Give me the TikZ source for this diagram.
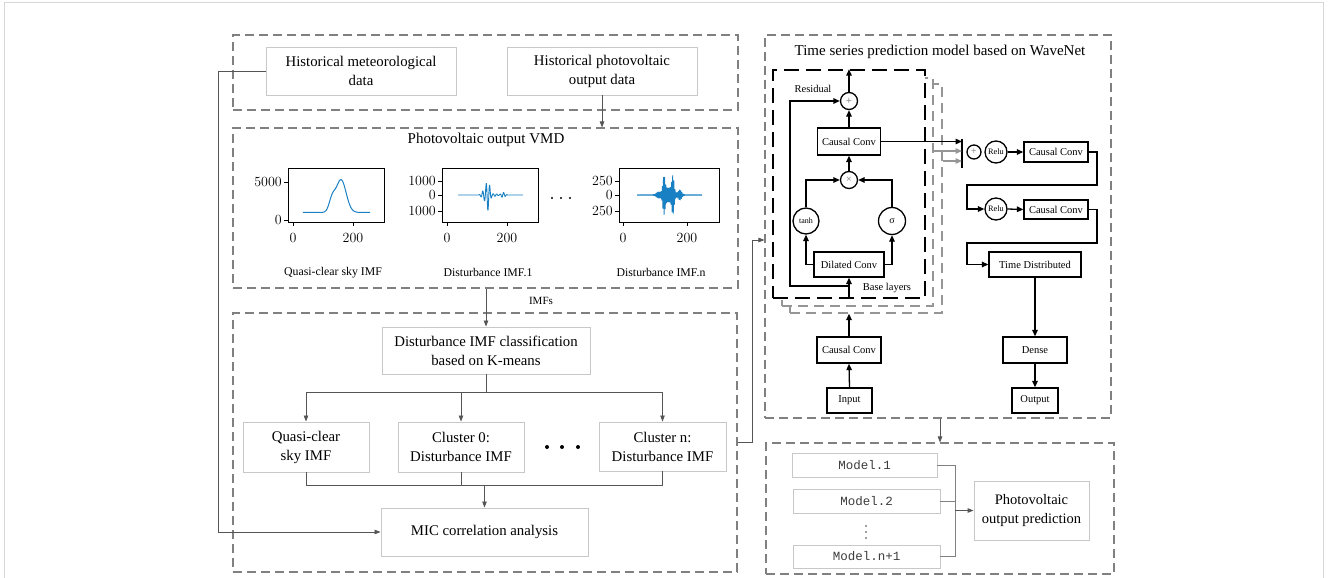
\documentclass[tikz,border=0pt]{standalone}
\usepackage{fontspec}
\usetikzlibrary{arrows.meta}
\newfontfamily\tnr{Liberation Serif}
\newfontfamily\mono{Liberation Mono}
\definecolor{boxgray}{RGB}{200,200,200}
\definecolor{lingray}{RGB}{85,85,85}
\definecolor{dashgray}{RGB}{128,128,128}
\definecolor{stackgray}{RGB}{150,150,150}
\definecolor{plotblue}{RGB}{25,128,195}
\definecolor{framegray}{RGB}{215,215,215}
\definecolor{modeltext}{RGB}{60,60,60}
\definecolor{symgray}{RGB}{110,110,110}
\tikzset{
 gbox/.style={draw=boxgray, line width=0.9pt, fill=white, inner sep=0pt, align=center, font=\tnr\fontsize{14.8}{19}\selectfont, text=black},
 mbox/.style={gbox, font=\mono\fontsize{12.5}{14}\selectfont, text=modeltext},
 panelbox/.style={draw=dashgray, line width=1.1pt, dash pattern=on 9pt off 5pt, inner sep=0pt},
 conn/.style={draw=lingray, line width=0.8pt},
 carr/.style={conn, -{Triangle[length=6pt,width=4.5pt]}},
 gline/.style={draw=dashgray, line width=1pt},
 garrow/.style={gline, -{Triangle[length=6pt,width=4.5pt]}},
 bbox/.style={draw=black, line width=1.3pt, fill=white, inner sep=0pt, font=\tnr\fontsize{10.5}{12}\selectfont},
 circ/.style={circle, draw=black, line width=1.3pt, fill=white, inner sep=0pt},
 bl/.style={draw=black, line width=1.3pt},
 barr/.style={bl, -{Triangle[length=6.5pt,width=5.5pt]}},
 stackarr/.style={draw=stackgray, line width=1.3pt, -{Triangle[length=6.5pt,width=5.5pt]}},
 labtxt/.style={font=\tnr\fontsize{10.5}{12}\selectfont, inner sep=0pt},
 captxt/.style={font=\tnr\fontsize{11.8}{13}\selectfont, inner sep=0pt},
 ticktxt/.style={font=\fontsize{14}{15}\selectfont, inner sep=0pt},
 axframe/.style={draw=black, line width=0.9pt},
 plotcurve/.style={draw=plotblue, line width=1pt, line join=round},
}
\begin{document}
\begin{tikzpicture}[x=1pt,y=-1pt]
\useasboundingbox (0,0) rectangle (1328,578);
\draw[framegray, line width=1pt] (4.5,2.5) rectangle (1323.5,590);

% ---------------- left column panels
\node[panelbox, minimum width=505pt, minimum height=75pt] (toppanel) at (485.5,72.5) {};
\node[panelbox, minimum width=505pt, minimum height=160pt] (vmd) at (485.5,208) {};
\node[panelbox, minimum width=504pt, minimum height=259pt] (botpanel) at (485,442.5) {};

\node[gbox, minimum width=190pt, minimum height=48pt] (met) at (361,71) {Historical meteorological\\data};
\node[gbox, minimum width=190pt, minimum height=48pt] (pvd) at (602,71) {Historical photovoltaic\\output data};
\draw[carr] (pvd.south) -- (pvd.south |- vmd.north);

\node[font=\tnr\fontsize{15}{17}\selectfont, inner sep=0pt] (vmdtitle) at (486,140) {Photovoltaic output VMD};

% plot 1
\draw[axframe] (288,168) rectangle (384,222);
\draw[axframe] (288,182) -- (284,182) (288,220) -- (284,220) (293,222) -- (293,226) (353,222) -- (353,226);
\node[ticktxt, anchor=east] (p1y1) at (282,182) {5000};
\node[ticktxt, anchor=east] (p1y0) at (282,220) {0};
\node[ticktxt] (p1x0) at (293,238) {0};
\node[ticktxt] (p1x2) at (353,238) {200};
\begin{scope}[shift={(293,220)}, x=0.3pt, y=0.0076pt]
\draw[plotcurve] plot[domain=33:257, samples=200] (\x, {1000+4300*exp(-(((\x-160)/24)^2))+1500*exp(-(((\x-130)/14)^2))});
\end{scope}
\node[captxt] (c1) at (333,273) {Quasi-clear sky IMF};

% plot 2
\draw[axframe] (442,168) rectangle (538,222);
\draw[axframe] (442,181) -- (438,181) (442,195) -- (438,195) (442,211) -- (438,211) (447,222) -- (447,226) (507,222) -- (507,226);
\node[ticktxt, anchor=east] (p2y1) at (436,181) {1000};
\node[ticktxt, anchor=east] (p2y0) at (436,195) {0};
\node[ticktxt, anchor=east] (p2y2) at (436,211) {1000};
\node[ticktxt] (p2x0) at (447,238) {0};
\node[ticktxt] (p2x2) at (507,238) {200};
\begin{scope}[shift={(447,195)}, x=0.3pt, y=0.0145pt]
\draw[plotcurve, line width=0.9pt] plot[domain=37:253, samples=500] (\x, {(1050*exp(-(((\x-136)/9)^2))+250*exp(-(((\x-120)/8)^2))+180*exp(-(((\x-187)/9)^2))+90*exp(-(((\x-160)/10)^2)))*sin(31*\x)});
\end{scope}
\node[captxt] (c2) at (488,272) {Disturbance IMF.1};

\fill[black] (552,198) circle (1.1pt) (561,198) circle (1.1pt) (570,198) circle (1.1pt);

% plot 3
\draw[axframe] (619,168) rectangle (719,222);
\draw[axframe] (619,181) -- (615,181) (619,195) -- (615,195) (619,211) -- (615,211) (623,222) -- (623,226) (687,222) -- (687,226);
\node[ticktxt, anchor=east] (p3y1) at (613,181) {250};
\node[ticktxt, anchor=east] (p3y0) at (613,195) {0};
\node[ticktxt, anchor=east] (p3y2) at (613,211) {250};
\node[ticktxt] (p3x0) at (623,238) {0};
\node[ticktxt] (p3x2) at (687,238) {200};
\begin{scope}[shift={(623,195)}, x=0.32pt, y=0.056pt]
\draw[plotcurve, line width=0.8pt] plot[domain=44:247, samples=900] (\x, {(270*exp(-(((\x-128)/5)^2))+270*exp(-(((\x-156)/5)^2))+120*exp(-(((\x-142)/20)^2))+80*exp(-(((\x-178)/7)^2))+40*exp(-(((\x-110)/8)^2))+6)*sin(100*(\x-140))});
\end{scope}
\node[captxt] (c3) at (661,272) {Disturbance IMF.n};

\node[captxt, font=\tnr\fontsize{11}{12}\selectfont] (imfs) at (541,301) {IMFs};

% bottom left
\node[gbox, minimum width=208pt, minimum height=47pt] (kmeans) at (486,350.5) {Disturbance IMF classification\\based on K-means};
\draw[carr] (kmeans.north |- vmd.south) -- (kmeans.north);

\node[gbox, minimum width=126pt, minimum height=50pt] (quasi) at (306,447) {Quasi-clear\\sky IMF};
\node[gbox, minimum width=126pt, minimum height=50pt] (c0) at (461,447) {Cluster 0:\\Disturbance IMF};
\node[gbox, minimum width=127pt, minimum height=49pt] (cn) at (662.5,446.5) {Cluster n:\\Disturbance IMF};
\fill[black] (547,447) circle (2pt) (562,447) circle (2pt) (578,447) circle (2pt);

\coordinate (br) at (486,392);
\draw[conn] (kmeans.south) -- (br);
\draw[conn] (quasi.north |- br) -- (cn.north |- br);
\draw[carr] (quasi.north |- br) -- (quasi.north);
\draw[carr] (c0.north |- br) -- (c0.north);
\draw[carr] (cn.north |- br) -- (cn.north);

\node[gbox, minimum width=207pt, minimum height=48pt] (mic) at (484.5,532) {MIC correlation analysis};
\coordinate (mg) at (485,485);
\draw[conn] (quasi.south) |- (cn.south |- mg) -- (cn.south);
\draw[conn] (c0.south) -- (c0.south |- mg);
\draw[carr] (mic.north |- mg) -- (mic.north);

\coordinate (metbend) at (218,71);
\draw[carr] (met.west) -- (metbend) |- (mic.west);

% ---------------- right column
\node[panelbox, minimum width=346pt, minimum height=383pt] (wpanel) at (938,226.5) {};
\node[font=\tnr\fontsize{15}{17}\selectfont, inner sep=0pt] (wtitle) at (940,52) {Time series prediction model based on WaveNet};

\coordinate (lr) at (752,240);
\draw[carr] (botpanel.east) -| (lr) -- (wpanel.west |- lr);

% stack of base layers
\node[draw=stackgray, line width=1.3pt, dash pattern=on 10pt off 6pt, fill=white, minimum width=152pt, minimum height=229pt, inner sep=0pt] (box3) at (866,198.5) {};
\node[draw=stackgray, line width=1.3pt, dash pattern=on 10pt off 6pt, fill=white, minimum width=151pt, minimum height=228pt, inner sep=0pt] (box2) at (857.5,192) {};
\node[draw=black, line width=1.6pt, dash pattern=on 15pt off 7pt, fill=white, minimum width=152pt, minimum height=228pt, inner sep=0pt] (box1) at (849,184) {};

\node[circ, minimum size=17pt, font=\tnr\fontsize{11}{11}\selectfont, text=symgray] (plus1) at (849,101) {+};
\node[bbox, minimum width=63pt, minimum height=27pt] (cc1) at (849,141.5) {Causal Conv};
\node[circ, minimum size=17pt, font=\tnr\fontsize{10}{10}\selectfont, text=symgray] (times) at (849,180) {×};
\node[circ, minimum size=26pt, font=\tnr\fontsize{8}{9}\selectfont] (tanh) at (806,221) {tanh};
\node[circ, minimum size=27pt, font=\tnr\fontsize{10}{10}\selectfont] (sig) at (892,221) {σ};
\node[bbox, minimum width=70pt, minimum height=25pt] (dil) at (849,264.5) {Dilated Conv};
\node[labtxt] (resid) at (813,89) {Residual};
\node[labtxt] (basel) at (887,288) {Base layers};

\draw[barr] (cc1.north) -- (plus1.south);
\draw[barr] (plus1.north) -- (plus1.north |- box1.north);
\draw[barr] (times.north) -- (cc1.south);
\draw[barr] (tanh.north) |- (times.west);
\draw[barr] (sig.north) |- (times.east);
\draw[barr] (dil.west) -| (tanh.south);
\draw[barr] (dil.east) -| (sig.south);
\draw[barr] (box1.south) -- (dil.south);
\coordinate (rs) at (849,286);
\coordinate (resx) at (790,286);
\draw[barr] (rs) -- (resx) |- (plus1.west);

\node[bbox, minimum width=64pt, minimum height=26pt] (cc0) at (849,350) {Causal Conv};
\node[bbox, minimum width=45pt, minimum height=25pt] (inp) at (849.5,400.5) {Input};
\draw[barr] (inp.north) -- (cc0.south);
\draw[barr] (cc0.north) -- (cc0.north |- box3.south);

% concat bar
\coordinate (bart) at (962,139);
\coordinate (barb) at (962,168);
\draw[black, line width=1.6pt] (bart) -- (barb);
\draw[barr] (cc1.east) -- (cc1.east -| bart);
\coordinate (g1) at (962,151);
\coordinate (g2) at (962,161);
\draw[stackarr] (box2.east |- g1) -- (g1);
\draw[stackarr] (box3.east |- g2) -- (g2);

\node[circ, minimum size=14pt, font=\tnr\fontsize{10}{10}\selectfont, text=symgray] (plus2) at (974,152) {+};
\node[circ, minimum size=22pt, font=\tnr\fontsize{8.3}{9}\selectfont] (relu1) at (996,152) {Relu};
\node[bbox, minimum width=64pt, minimum height=20pt] (cc2) at (1056,152) {Causal Conv};
\draw[barr] (relu1.east) -- (cc2.west);

\node[circ, minimum size=22pt, font=\tnr\fontsize{8.3}{9}\selectfont] (relu2) at (996,209) {Relu};
\node[bbox, minimum width=64pt, minimum height=19pt] (cc3) at (1056,209.5) {Causal Conv};
\draw[barr] (relu2.east) -- (cc3.west);

\coordinate (j1) at (1097,185);
\coordinate (j2) at (967,185);
\draw[barr] (cc2.east) -| (j1) -- (j2) |- (relu2.west);

\node[bbox, minimum width=92pt, minimum height=25pt] (td) at (1035,264.5) {Time Distributed};
\coordinate (j3) at (1097,243);
\coordinate (j4) at (967,243);
\draw[barr] (cc3.east) -| (j3) -- (j4) |- (td.west);

\node[bbox, minimum width=64pt, minimum height=26pt] (dense) at (1035,350) {Dense};
\node[bbox, minimum width=46pt, minimum height=25pt] (outp) at (1035,400.5) {Output};
\draw[barr] (td.south) -- (dense.north);
\draw[barr] (dense.south) -- (outp.north);

% ---------------- bottom right
\node[panelbox, minimum width=348pt, minimum height=131pt] (rpanel) at (940,508.5) {};
\draw[carr] (wpanel.south -| rpanel.north) -- (rpanel.north);

\node[mbox, minimum width=145pt, minimum height=24pt] (m1) at (864.5,465) {Model.1};
\node[mbox, minimum width=147pt, minimum height=24pt] (m2) at (866.5,501) {Model.2};
\fill[modeltext] (866,526) circle (0.8pt) (866,532) circle (0.8pt) (866,538) circle (0.8pt);
\node[mbox, minimum width=147pt, minimum height=23pt] (m3) at (866.5,556.5) {Model.n+1};
\node[gbox, minimum width=115pt, minimum height=59pt, font=\tnr\fontsize{14.5}{19}\selectfont] (pred) at (1031.5,510.5) {Photovoltaic\\output prediction};

\coordinate (jx) at (955,510.5);
\draw[gline] (m1.east) -| (jx);
\draw[gline] (m3.east) -| (jx);
\draw[gline] (m2.east) -- (m2.east -| jx);
\draw[garrow, draw=lingray] (jx) -- (pred.west);
\end{tikzpicture}
\end{document}
